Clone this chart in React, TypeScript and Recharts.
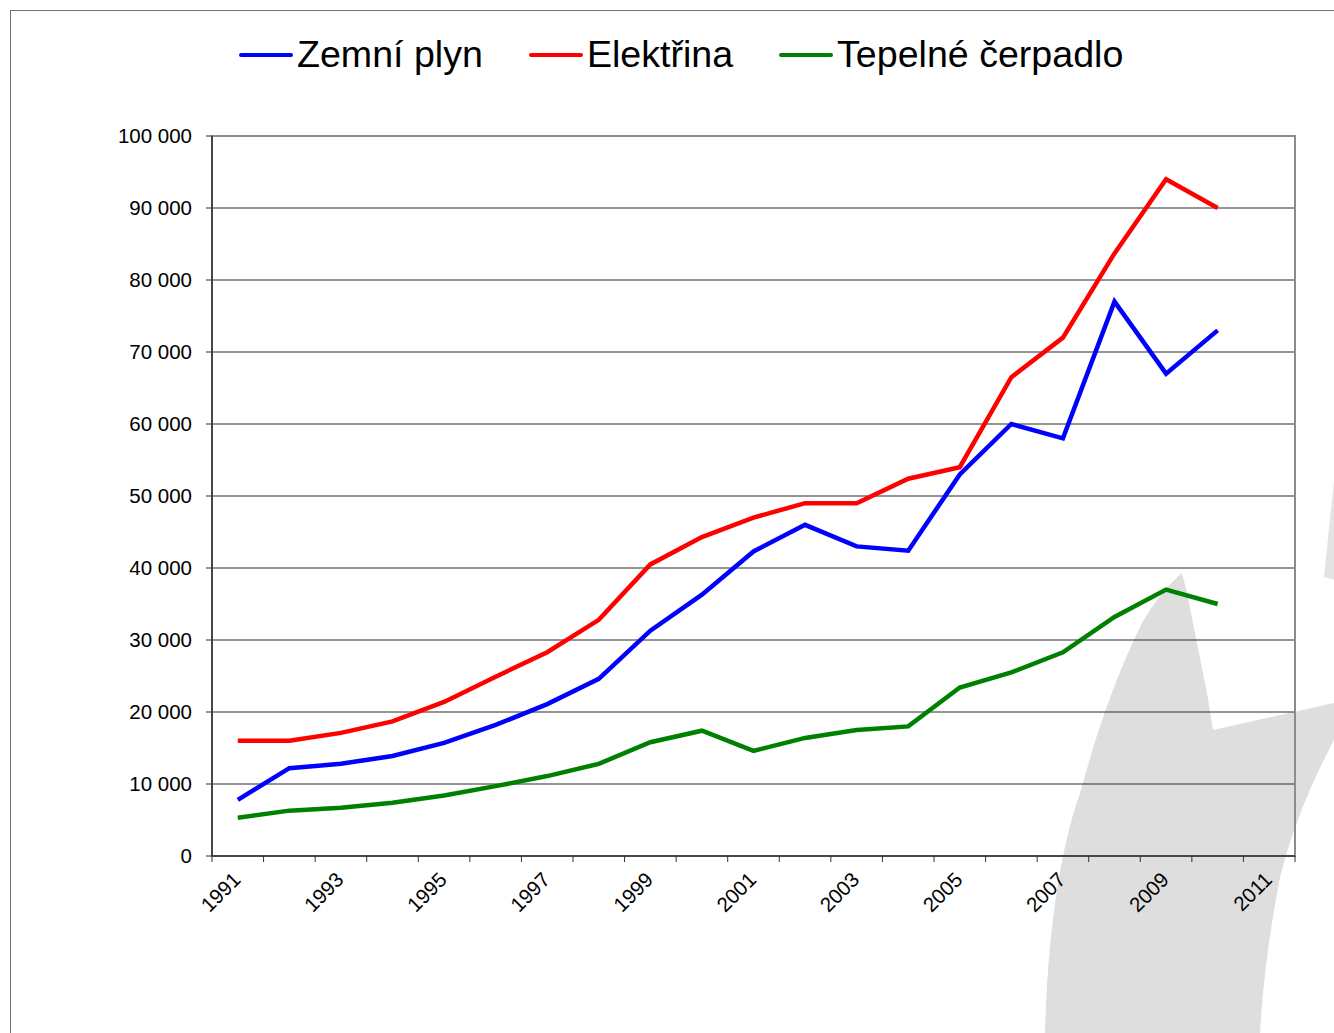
import React from 'react';
import { LineChart, Line, XAxis, YAxis, CartesianGrid, ReferenceArea } from 'recharts';

// ---- data ----
const years = ['1991', '1992', '1993', '1994', '1995', '1996', '1997', '1998', '1999', '2000', '2001', '2002', '2003', '2004', '2005', '2006', '2007', '2008', '2009', '2010', '2011'];
const zemniPlyn = [7800, 12200, 12800, 13900, 15700, 18200, 21100, 24600, 31300, 36300, 42300, 46000, 43000, 42400, 53000, 60000, 58000, 77000, 67000, 73000, null];
const elektrina = [16000, 16000, 17100, 18700, 21400, 24900, 28300, 32800, 40500, 44300, 47000, 49000, 49000, 52400, 54000, 66500, 72000, 83700, 94000, 90000, null];
const tepelneCerpadlo = [5300, 6300, 6700, 7400, 8400, 9700, 11100, 12800, 15800, 17400, 14600, 16400, 17500, 18000, 23400, 25500, 28300, 33200, 37000, 35000, null];
const yTicks = [0, 10000, 20000, 30000, 40000, 50000, 60000, 70000, 80000, 90000, 100000];
const xTickLabels = ['1991', '1993', '1995', '1997', '1999', '2001', '2003', '2005', '2007', '2009', '2011'];

const seriesNames = ['Zemní plyn', 'Elektřina', 'Tepelné čerpadlo'];
const seriesKeys = ['zemniPlyn', 'elektrina', 'tepelneCerpadlo'];
const seriesColors = ['#0000FF', '#FF0000', '#008000'];

const data = years.map((y, i) => ({
  year: y,
  zemniPlyn: zemniPlyn[i],
  elektrina: elektrina[i],
  tepelneCerpadlo: tepelneCerpadlo[i],
}));

const FONT = 'Arial, "Liberation Sans", Helvetica, sans-serif';
const W = 1334;
const H = 1033;
const PLOT_W = 1083;
const BAND = PLOT_W / years.length;

const fmt = (v: number) => String(v).replace(/\B(?=(\d{3})+(?!\d))/g, ' ');

const XTick = (props: any) => {
  const { x, y, payload, index } = props;
  const half = BAND / 2;
  const label = String(payload.value);
  const show = xTickLabels.includes(label);
  const ax = x + 4;
  const ay = y + 19;
  const isLast = index === years.length - 1;
  return (
    <g>
      <line x1={x - half} x2={x - half} y1={y - 6} y2={y} stroke="#303030" strokeWidth={1} />
      {isLast && <line x1={x + half} x2={x + half} y1={y - 6} y2={y} stroke="#303030" strokeWidth={1} />}
      {show && (
        <text
          x={ax}
          y={ay}
          textAnchor="end"
          fontSize={20.5}
          fontFamily={FONT}
          fill="#000"
          transform={`rotate(-45, ${ax}, ${ay})`}
        >
          {label}
        </text>
      )}
    </g>
  );
};

const Legend = () => (
  <div
    style={{
      position: 'absolute',
      left: 239,
      top: 36,
      display: 'flex',
      alignItems: 'center',
      height: 37,
      fontFamily: FONT,
      fontSize: 37.6,
      lineHeight: '37px',
      color: '#000',
      whiteSpace: 'nowrap',
    }}
  >
    {seriesNames.map((n, i) => (
      <div key={n} style={{ display: 'flex', alignItems: 'center', marginRight: i < seriesNames.length - 1 ? 46 : 0 }}>
        <svg width={54} height={8} style={{ marginRight: 4 }}>
          <line x1={2} x2={52} y1={4} y2={4} stroke={seriesColors[i]} strokeWidth={4} strokeLinecap="round" />
        </svg>
        <span>{n}</span>
      </div>
    ))}
  </div>
);

const Watermark = () => (
  <svg width={W} height={H} style={{ position: 'absolute', left: 0, top: 0 }}>
    <path
      d="M1045,1033 C1048,930 1060,850 1080,793 C1095,740 1110,690 1140,627 C1155,600 1168,585 1182,573 L1187,593 L1197,643 L1207,693 L1213,730 L1334,703 L1334,740 C1313,780 1295,820 1280,877 C1270,930 1263,980 1260,1033 Z"
      fill="#dedede"
    />
    <path d="M1334,480 L1324,577 L1334,580 Z" fill="#e4e4e4" />
  </svg>
);

export default function App() {
  return (
    <div style={{ position: 'absolute', left: 0, top: 0, width: W, height: H, background: '#fff', overflow: 'hidden' }}>
      <Watermark />
      <div
        style={{
          position: 'absolute',
          left: 10,
          top: 10,
          width: W,
          height: H,
          borderLeft: '1px solid #707070',
          borderTop: '1px solid #707070',
        }}
      />
      <div style={{ position: 'absolute', left: 0, top: 0 }}>
        <LineChart width={W} height={H} data={data} margin={{ top: 136, right: 39, bottom: 0, left: 0 }}>
          <CartesianGrid horizontal vertical={false} stroke="#2a2a2a" strokeWidth={1} />
          <ReferenceArea y1={0} y2={100000} fill="none" fillOpacity={0} stroke="#8c8c8c" strokeWidth={2} ifOverflow="visible" />
          <XAxis
            dataKey="year"
            scale="band"
            type="category"
            interval={0}
            height={177}
            tickSize={6}
            tickMargin={0}
            tickLine={false}
            axisLine={{ stroke: '#303030', strokeWidth: 1.5 }}
            tick={<XTick />}
          />
          <YAxis
            domain={[0, 100000]}
            ticks={yTicks}
            width={212}
            tickSize={6}
            tickMargin={14}
            tickFormatter={fmt}
            tick={{ fontSize: 20.5, fontFamily: FONT, fill: '#000' }}
            tickLine={{ stroke: '#303030' }}
            axisLine={{ stroke: '#303030', strokeWidth: 1.5 }}
            interval={0}
          />
          {seriesKeys.map((k, i) => (
            <Line
              key={k}
              dataKey={k}
              name={seriesNames[i]}
              stroke={seriesColors[i]}
              strokeWidth={4.5}
              dot={false}
              activeDot={false}
              isAnimationActive={false}
              strokeLinejoin="miter"
              type="linear"
            />
          ))}
        </LineChart>
      </div>
      <Legend />
    </div>
  );
}
